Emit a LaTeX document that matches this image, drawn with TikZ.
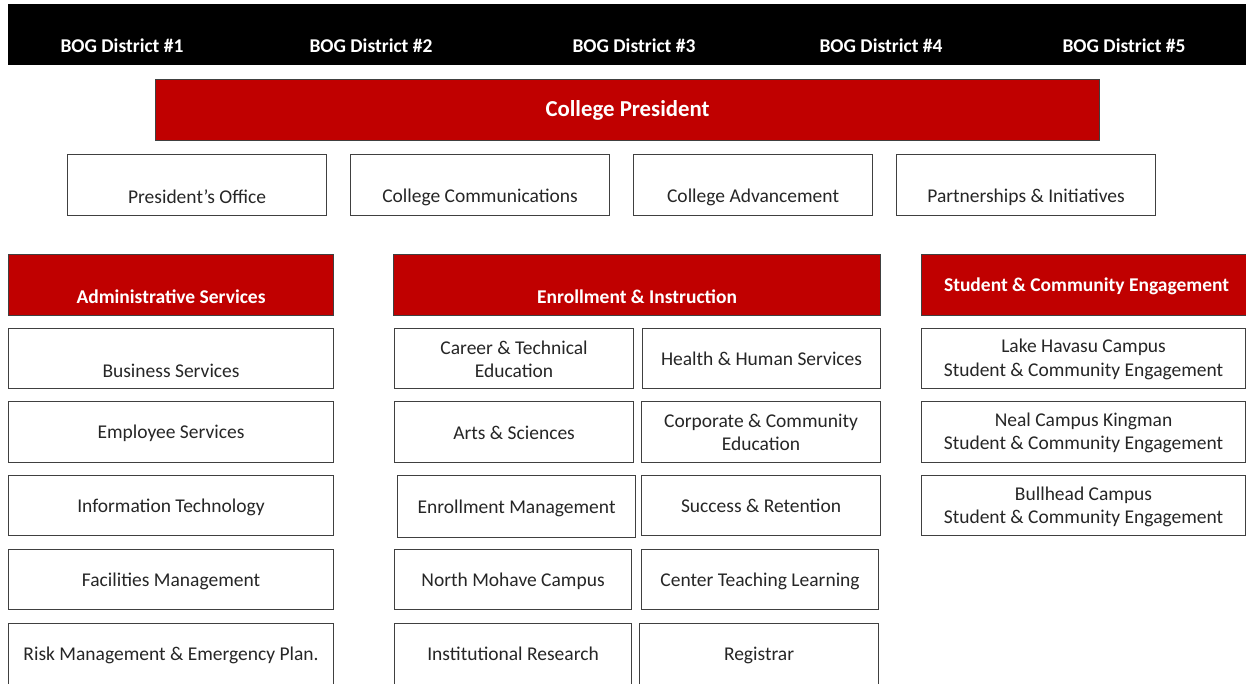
\documentclass[tikz,border=0pt]{standalone}
\usepackage{fontspec}
\setmainfont{Carlito}
\definecolor{mcred}{HTML}{C00000}
\definecolor{edge}{HTML}{404040}
\definecolor{ink}{HTML}{262626}
\tikzset{
  plainbox/.style={draw=edge, line width=1.1pt, fill=white},
  redbox/.style={draw=edge, line width=1.1pt, fill=mcred},
  darkbar/.style={fill=black},
  bodytext/.style={text=ink, font=\fontsize{19.5}{23.5}\selectfont, align=center, inner sep=0pt},
  headtext/.style={text=white, font=\bfseries\fontsize{19.5}{23.5}\selectfont, align=center, inner sep=0pt},
  toptext/.style={text=white, font=\bfseries\fontsize{22.8}{26}\selectfont, align=center, inner sep=0pt},
}
% \orgbox{name}{x1}{y1}{x2}{y2}{box style}{text style}{text shift}{text}
\newcommand{\orgbox}[9]{%
  \node[#6, minimum width={(#4-#2)*1pt}, minimum height={(#5-#3)*1pt}, inner sep=0pt, anchor=north west] (#1) at (#2,#3) {};
  \node[#7] (#1-t) at ([yshift=#8pt]#1.center) {#9};
}
\begin{document}
\begin{tikzpicture}[x=1pt, y=-1pt]
\clip (0,0) rectangle (1246,683);
\fill[white] (0,0) rectangle (1246,683);

% board of governors bar
\node[darkbar, minimum width=1242pt, minimum height=61pt, inner sep=0pt, anchor=north west] (bog) at (8,4) {};
\node[headtext] (d1) at (122,45.5) {BOG District \#1};
\node[headtext] (d2) at (371,45.5) {BOG District \#2};
\node[headtext] (d3) at (634,45.5) {BOG District \#3};
\node[headtext] (d4) at (881,45.5) {BOG District \#4};
\node[headtext] (d5) at (1124,45.5) {BOG District \#5};

% president
\orgbox{pres}{155}{79}{1099}{140}{redbox}{toptext}{-0.5}{College President}

% president's direct offices
\orgbox{po}{67}{154}{326}{215}{plainbox}{bodytext}{-11.5}{President’s Office}
\orgbox{cc}{350}{154}{609}{215}{plainbox}{bodytext}{-12}{College Communications}
\orgbox{ca}{633}{154}{872}{215}{plainbox}{bodytext}{-12}{College Advancement}
\orgbox{pi}{896}{154}{1155}{215}{plainbox}{bodytext}{-12}{Partnerships \& Initiatives}

% division heads
\orgbox{adm}{8}{254}{333}{315}{redbox}{headtext}{-12}{Administrative Services}
\orgbox{eni}{393}{254}{880}{315}{redbox}{headtext}{-12}{Enrollment \& Instruction}
\orgbox{sce}{921}{254}{1251}{315}{redbox}{headtext}{-1.5}{Student \& Community Engagement}

% administrative services
\orgbox{bs}{8}{328}{333}{388}{plainbox}{bodytext}{-12.5}{Business Services}
\orgbox{es}{8}{401}{333}{462}{plainbox}{bodytext}{-1.5}{Employee Services}
\orgbox{it}{8}{475}{333}{535}{plainbox}{bodytext}{-1.5}{Information Technology}
\orgbox{fm}{8}{549}{333}{609}{plainbox}{bodytext}{-1.5}{Facilities Management}
\orgbox{rm}{8}{623}{333}{700}{plainbox}{bodytext}{7}{Risk Management \& Emergency Plan.}

% enrollment & instruction, left column
\orgbox{cte}{394}{328}{633}{388}{plainbox}{bodytext}{-0.5}{Career \& Technical\\Education}
\orgbox{as}{394}{401}{633}{462}{plainbox}{bodytext}{-1}{Arts \& Sciences}
\orgbox{em}{397}{475}{635}{537}{plainbox}{bodytext}{-1.5}{Enrollment Management}
\orgbox{nm}{394}{549}{631}{609}{plainbox}{bodytext}{-1.5}{North Mohave Campus}
\orgbox{ir}{394}{623}{631}{700}{plainbox}{bodytext}{8}{Institutional Research}

% enrollment & instruction, right column
\orgbox{hhs}{642}{328}{880}{388}{plainbox}{bodytext}{-0.5}{Health \& Human Services}
\orgbox{cce}{641}{401}{880}{462}{plainbox}{bodytext}{-0.5}{Corporate \& Community\\Education}
\orgbox{sr}{641}{475}{880}{535}{plainbox}{bodytext}{-0.5}{Success \& Retention}
\orgbox{ctl}{641}{549}{878}{609}{plainbox}{bodytext}{-1.5}{Center Teaching Learning}
\orgbox{reg}{639}{623}{878}{700}{plainbox}{bodytext}{6.5}{Registrar}

% student & community engagement
\orgbox{lh}{921}{328}{1245}{388}{plainbox}{bodytext}{-1}{Lake Havasu Campus\\Student \& Community Engagement}
\orgbox{nk}{921}{401}{1245}{462}{plainbox}{bodytext}{-1}{Neal Campus Kingman\\Student \& Community Engagement}
\orgbox{bh}{921}{475}{1245}{535}{plainbox}{bodytext}{-1.5}{Bullhead Campus\\Student \& Community Engagement}
\end{tikzpicture}
\end{document}
